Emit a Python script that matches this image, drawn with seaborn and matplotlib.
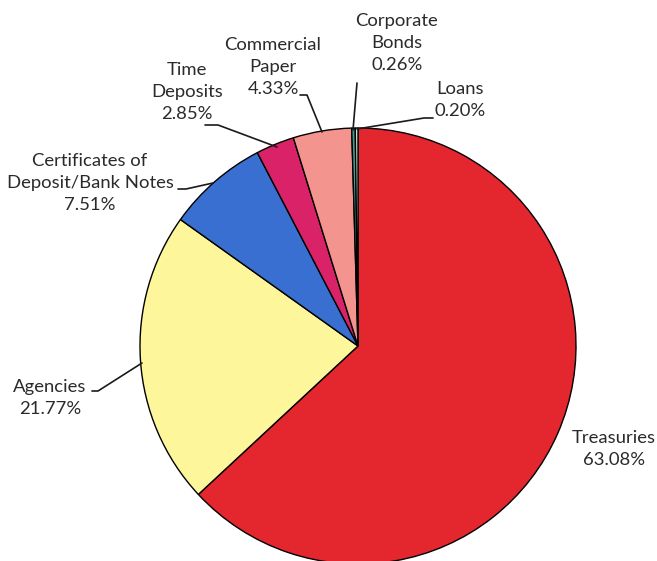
import matplotlib
matplotlib.use("Agg")
import matplotlib.pyplot as plt
import seaborn as sns

sns.set_theme(style="white")
plt.rcParams['font.family'] = ['Lato', 'DejaVu Sans']

categories = ["Treasuries", "Agencies", "Certificates of\nDeposit/Bank Notes", "Time\nDeposits",
              "Commercial\nPaper", "Corporate\nBonds", "Loans"]
values = [63.08, 21.77, 7.51, 2.85, 4.33, 0.26, 0.20]
pct_labels = ["63.08%", "21.77%", "7.51%", "2.85%", "4.33%", "0.26%", "0.20%"]
colors = ["#e4262e", "#fdf69a", "#3a6fd2", "#da2268", "#f3948f", "#3f9e8f", "#d0e4d6"]

H = 561
fig = plt.figure(figsize=(6.57, 5.61), dpi=100)
ax = fig.add_axes([0, 0, 1, 1])

cx, cy, r = 358, H - 346, 218
ax.pie(values, colors=colors, startangle=90, counterclock=False,
       center=(cx, cy), radius=r, frame=True,
       wedgeprops=dict(edgecolor="black", linewidth=1.0))
ax.set_xlim(0, 657)
ax.set_ylim(0, H)
ax.set_aspect("equal")
ax.axis("off")

# label positions (pixel coords, top-origin) and leader lines
label_pos = [(614, 449), (50, 398), (90, 183), (187, 92), (273, 67), (397, 43), (460, 100)]
leaders = [
    None,
    [(92, 391), (98, 391), (142, 363)],
    [(178, 189), (186, 189), (213, 183)],
    [(205, 125), (218, 125), (277, 147)],
    [(300, 95), (307, 95), (322, 132)],
    [(357, 83), (353, 130)],
    [(433, 118), (424, 118), (357, 129)],
]
for cat, pct, (x, y), ld in zip(categories, pct_labels, label_pos, leaders):
    ax.text(x, H - y, f"{cat}\n{pct}", ha="center", va="center", fontsize=13.3,
            color="#2a2a2a", linespacing=1.45)
    if ld:
        ax.plot([p[0] for p in ld], [H - p[1] for p in ld], color="#1a1a1a", lw=1.2)

fig.savefig("out.png", dpi=100)
